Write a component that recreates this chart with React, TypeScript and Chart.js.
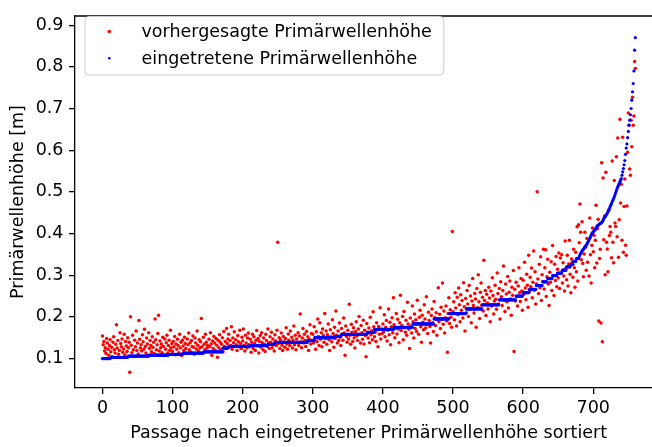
import React, { useEffect, useRef } from 'react';
import { Chart, registerables } from 'chart.js';

Chart.register(...registerables);

const FONT = "'DejaVu Sans', sans-serif";
const FS = 17.5;

const xTickValues = [0, 100, 200, 300, 400, 500, 600, 700];
const yTickValues = [0.1, 0.2, 0.3, 0.4, 0.5, 0.6, 0.7, 0.8, 0.9];

const xTitle = 'Passage nach eingetretener Primärwellenhöhe sortiert';
const yTitle = 'Primärwellenhöhe [m]';
const redLabel = 'vorhergesagte Primärwellenhöhe';
const blueLabel = 'eingetretene Primärwellenhöhe';

// observed (blue), sorted: plateau levels [m] and how many passages sit on each
const blueLevels = [
  0.1, 0.103, 0.106, 0.108, 0.11, 0.113, 0.116, 0.125, 0.129, 0.131, 0.134, 0.139,
  0.143, 0.15, 0.153, 0.158, 0.163, 0.17, 0.175, 0.183, 0.195, 0.208, 0.219, 0.229,
  0.241, 0.25, 0.258, 0.266, 0.275, 0.284, 0.292, 0.299, 0.305, 0.312, 0.32, 0.326,
  0.333, 0.34,
];
const blueCounts = [
  12, 25, 30, 28, 20, 30, 27, 8, 30, 26, 10, 47,
  10, 28, 10, 37, 10, 28, 27, 30, 22, 24, 23, 24,
  24, 10, 9, 10, 9, 7, 7, 7, 7, 6, 6, 4,
  4, 4,
];
// observed (blue), last 81 passages, one value each [m]
const blueTail = [
  0.345, 0.349, 0.352, 0.355, 0.358, 0.361, 0.362, 0.365, 0.368, 0.37,
  0.372, 0.375, 0.378, 0.381, 0.385, 0.388, 0.392, 0.396, 0.4, 0.402,
  0.404, 0.406, 0.408, 0.41, 0.413, 0.416, 0.419, 0.42, 0.421, 0.423,
  0.424, 0.425, 0.427, 0.428, 0.432, 0.436, 0.438, 0.44, 0.443, 0.446,
  0.449, 0.452, 0.456, 0.46, 0.464, 0.468, 0.472, 0.476, 0.48, 0.484,
  0.488, 0.493, 0.498, 0.503, 0.508, 0.512, 0.516, 0.52, 0.524, 0.528,
  0.532, 0.54, 0.548, 0.556, 0.565, 0.575, 0.59, 0.605, 0.615, 0.63,
  0.645, 0.66, 0.672, 0.685, 0.7, 0.72, 0.74, 0.76, 0.79, 0.84, 0.87,
];

// predicted (red), in mm, one per passage
const redMm = [
  154, 133, 141, 118, 126, 112, 148, 137, 122, 108,
  131, 145, 116, 127, 104, 139, 152, 121, 113, 134,
  181, 125, 143, 110, 119, 162, 136, 128, 147, 115,
  123, 158, 109, 141, 130, 117, 150, 126, 139, 67,
  200, 132, 114, 156, 121, 105, 144, 128, 166, 119,
  137, 111, 191, 146, 125, 133, 118, 157, 140, 122,
  170, 129, 113, 149, 135, 108, 162, 124, 143, 131,
  116, 152, 127, 139, 112, 195, 145, 121, 133, 160,
  204, 118, 142, 126, 135, 114, 151, 129, 107, 147,
  122, 138, 156, 113, 131, 144, 120, 168, 126, 136,
  117, 141, 128, 153, 109, 135, 122, 146, 131, 114,
  158, 125, 139, 107, 144, 130, 119, 151, 136, 124,
  112, 147, 133, 161, 121, 138, 115, 143, 129, 154,
  127, 110, 149, 137, 123, 166, 132, 118, 145, 126,
  140, 196, 128, 113, 151, 134, 121, 158, 139, 125,
  131, 117, 146, 128, 162, 135, 108, 142, 124, 153,
  137, 119, 148, 132, 103, 144, 126, 157, 139, 121,
  134, 150, 116, 165, 129, 141, 125, 172, 136, 147,
  158, 127, 143, 131, 176, 122, 149, 138, 164, 129,
  145, 133, 119, 155, 140, 128, 168, 136, 124, 151,
  142, 171, 131, 118, 156, 137, 125, 149, 161, 133,
  128, 146, 115, 139, 158, 124, 152, 136, 119, 144,
  167, 130, 148, 113, 141, 155, 127, 162, 138, 121,
  149, 134, 117, 158, 143, 129, 171, 137, 124, 152,
  139, 163, 126, 147, 133, 118, 157, 142, 131, 168,
  379, 136, 150, 124, 145, 161, 132, 119, 153, 140,
  127, 148, 174, 135, 122, 159, 144, 131, 166, 138,
  151, 125, 143, 178, 133, 156, 121, 147, 139, 162,
  131, 154, 207, 140, 126, 149, 172, 137, 158, 144,
  129, 165, 141, 152, 119, 146, 181, 135, 160, 143,
  158, 137, 176, 149, 122, 164, 141, 195, 153, 131,
  186, 146, 162, 128, 171, 155, 139, 208, 148, 166,
  134, 157, 183, 145, 119, 169, 152, 140, 193, 160,
  127, 175, 148, 214, 156, 137, 166, 143, 185, 151,
  131, 172, 159, 144, 197, 161, 108, 178, 153, 139,
  168, 147, 230, 156, 134, 182, 163, 141, 174, 150,
  125, 165, 188, 154, 143, 171, 201, 158, 137, 179,
  162, 146, 192, 135, 168, 155, 104, 184, 161, 149,
  173, 138, 199, 157, 166, 145, 212, 176, 152, 163,
  141, 186, 169, 128, 177, 158, 222, 147, 171, 160,
  183, 164, 205, 152, 175, 191, 142, 168, 219, 157,
  187, 133, 176, 198, 162, 246, 181, 150, 172, 208,
  159, 194, 171, 138, 186, 252, 167, 179, 201, 145,
  213, 174, 163, 192, 156, 235, 183, 170, 124, 197,
  178, 161, 226, 188, 149, 207, 172, 193, 165, 240,
  184, 158, 199, 216, 176, 139, 204, 187, 169, 229,
  195, 173, 248, 182, 160, 211, 191, 177, 137, 203,
  219, 186, 165, 237, 198, 179, 210, 156, 193, 270,
  188, 206, 172, 223, 195, 281, 182, 214, 161, 198,
  226, 190, 115, 208, 246, 184, 217, 199, 175, 405,
  212, 236, 193, 258, 221, 178, 247, 205, 269, 229,
  188, 253, 216, 239, 197, 282, 224, 166, 244, 210,
  263, 231, 201, 275, 218, 250, 186, 238, 292, 227,
  209, 256, 243, 175, 268, 222, 301, 236, 196, 259,
  281, 228, 247, 214, 336, 239, 263, 203, 254, 233,
  219, 271, 245, 188, 262, 226, 294, 251, 207, 238,
  276, 242, 218, 305, 256, 231, 268, 195, 284, 248,
  227, 263, 322, 240, 213, 279, 255, 236, 297, 221,
  259, 286, 243, 204, 271, 252, 311, 117, 266, 238,
  283, 249, 226, 274, 318, 258, 237, 292, 262, 216,
  288, 254, 331, 269, 241, 302, 276, 223, 348, 261,
  295, 272, 317, 246, 283, 358, 264, 308, 231, 279,
  500, 291, 256, 326, 270, 344, 239, 301, 285, 362,
  267, 318, 361, 249, 296, 338, 279, 227, 307, 283,
  332, 263, 371, 298, 251, 326, 287, 345, 272, 314,
  293, 353, 268, 341, 305, 349, 281, 330, 298, 262,
  382, 316, 289, 348, 274, 327, 384, 302, 258, 339,
  331, 295, 362, 318, 271, 355, 308, 416, 286, 421,
  378, 471, 403, 337, 428, 328, 296, 351, 403, 367,
  312, 388, 331, 386, 298, 437, 349, 281, 372, 413,
  356, 396, 318, 384, 468, 329, 412, 434, 190, 340,
  362, 185, 570, 140, 533, 385, 442, 301, 547, 379,
  363, 308, 456, 395, 417, 403, 342, 574, 379, 330,
  527, 425, 417, 584, 392, 629, 343, 433, 674, 473,
  518, 384, 631, 355, 465, 531, 372, 348, 466, 595,
  689, 660, 555, 540, 672, 608, 727, 660, 682, 813, 796,
];

const blueValues: number[] = [];
blueLevels.forEach((lv, k) => {
  for (let j = 0; j < blueCounts[k]; j++) blueValues.push(lv);
});
blueTail.forEach((v) => blueValues.push(v));

const CANVAS_W = 664;
const CANVAS_H = 447;

const framePlugin = {
  id: 'frameAndLegend',
  afterDraw(chart: any) {
    const { ctx, chartArea } = chart;
    ctx.save();
    // top spine
    ctx.strokeStyle = '#000';
    ctx.lineWidth = 1.3;
    ctx.beginPath();
    ctx.moveTo(chartArea.left - 0.65, chartArea.top);
    ctx.lineTo(chartArea.right, chartArea.top);
    ctx.stroke();

    // legend
    ctx.font = `${FS}px ${FONT}`;
    const textX = 141.5;
    const w = Math.max(ctx.measureText(redLabel).width, ctx.measureText(blueLabel).width);
    const bx = 85, by = 16.5, bw = textX + w + 12 - bx, bh = 58.5, r = 4;
    ctx.beginPath();
    ctx.moveTo(bx + r, by);
    ctx.lineTo(bx + bw - r, by);
    ctx.arcTo(bx + bw, by, bx + bw, by + r, r);
    ctx.lineTo(bx + bw, by + bh - r);
    ctx.arcTo(bx + bw, by + bh, bx + bw - r, by + bh, r);
    ctx.lineTo(bx + r, by + bh);
    ctx.arcTo(bx, by + bh, bx, by + bh - r, r);
    ctx.lineTo(bx, by + r);
    ctx.arcTo(bx, by, bx + r, by, r);
    ctx.closePath();
    ctx.fillStyle = 'rgba(255,255,255,0.8)';
    ctx.fill();
    ctx.strokeStyle = '#cccccc';
    ctx.lineWidth = 1;
    ctx.stroke();

    ctx.fillStyle = '#ff0000';
    ctx.beginPath();
    ctx.arc(109.3, 31.5, 1.8, 0, Math.PI * 2);
    ctx.fill();
    ctx.fillStyle = '#0000ff';
    ctx.beginPath();
    ctx.arc(109.3, 58.3, 1.3, 0, Math.PI * 2);
    ctx.fill();

    ctx.fillStyle = '#000';
    ctx.textBaseline = 'alphabetic';
    ctx.textAlign = 'left';
    ctx.fillText(redLabel, textX, 37.2);
    ctx.fillText(blueLabel, textX, 63.8);
    ctx.restore();
  },
};

export default function App() {
  const ref = useRef<HTMLCanvasElement | null>(null);

  useEffect(() => {
    document.body.style.margin = '0';
    document.body.style.overflow = 'hidden';
    const canvas = ref.current;
    if (!canvas) return;
    const chart = new Chart(canvas, {
      type: 'scatter',
      data: {
        datasets: [
          {
            label: blueLabel,
            data: blueValues.map((v, i) => ({ x: i, y: v })),
            backgroundColor: '#0000ff',
            borderWidth: 0,
            pointRadius: 1.6,
            pointHoverRadius: 1.6,
            order: 0,
          },
          {
            label: redLabel,
            data: redMm.map((v, i) => ({ x: i, y: v / 1000 })),
            backgroundColor: '#ff0000',
            borderWidth: 0,
            pointRadius: 1.75,
            pointHoverRadius: 1.75,
            order: 1,
          },
        ],
      },
      options: {
        responsive: false,
        animation: false,
        events: [],
        layout: { padding: { top: 3, left: 0, right: 0, bottom: 0 } },
        plugins: { legend: { display: false }, tooltip: { enabled: false } },
        scales: {
          x: {
            type: 'linear',
            min: -39.16,
            max: 798.4,
            afterBuildTicks: (s: any) => {
              s.ticks = xTickValues.map((v) => ({ value: v }));
            },
            afterFit: (s: any) => {
              s.height = 59;
            },
            grid: { drawOnChartArea: false, drawTicks: true, tickLength: 6, color: '#000', lineWidth: 1.3 },
            border: { display: true, color: '#000', width: 1.3 },
            ticks: {
              color: '#000',
              font: { family: FONT, size: FS },
              padding: 4,
              maxRotation: 0,
              autoSkip: false,
              callback: (v: any) => String(v),
            },
            title: {
              display: true,
              text: xTitle,
              color: '#000',
              font: { family: FONT, size: FS, lineHeight: 1.2 },
              padding: { top: 0, bottom: 3 },
            },
          },
          y: {
            type: 'linear',
            min: 0.0293,
            max: 0.922,
            afterBuildTicks: (s: any) => {
              s.ticks = yTickValues.map((v) => ({ value: v }));
            },
            afterFit: (s: any) => {
              s.width = 75;
            },
            grid: { drawOnChartArea: false, drawTicks: true, tickLength: 6, color: '#000', lineWidth: 1.3 },
            border: { display: true, color: '#000', width: 1.3 },
            ticks: {
              color: '#000',
              font: { family: FONT, size: FS },
              padding: 5.5,
              autoSkip: false,
              callback: (v: any) => Number(v).toFixed(1),
            },
            title: {
              display: true,
              text: yTitle,
              color: '#000',
              font: { family: FONT, size: FS, lineHeight: 1.2 },
              padding: { top: 8, bottom: 0 },
            },
          },
        },
      },
      plugins: [framePlugin],
    } as any);
    return () => chart.destroy();
  }, []);

  return (
    <div style={{ position: 'fixed', left: 0, top: 0, width: 652, height: CANVAS_H, overflow: 'hidden', background: '#fff' }}>
      <canvas ref={ref} width={CANVAS_W} height={CANVAS_H} style={{ display: 'block', width: CANVAS_W, height: CANVAS_H }} />
    </div>
  );
}
